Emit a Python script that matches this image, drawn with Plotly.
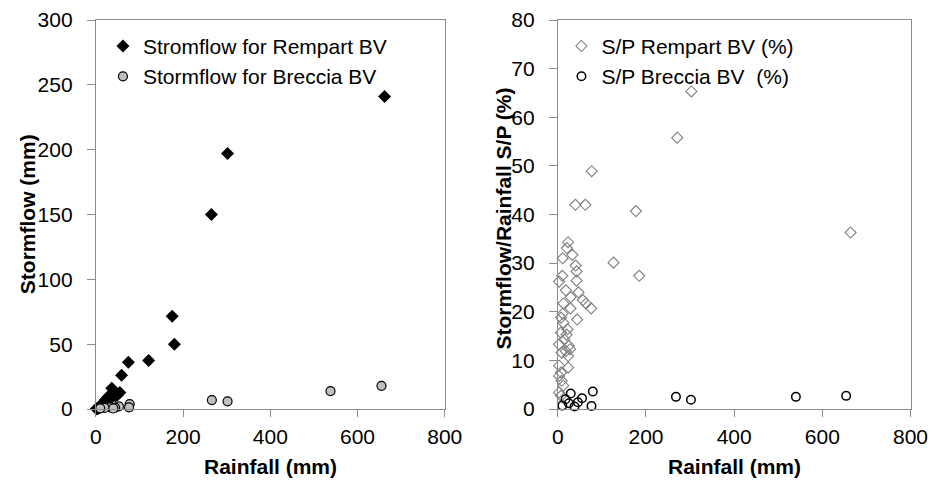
import plotly.graph_objects as go

# ---- Left panel: stormflow vs rainfall ----
rain_rempart = [662, 302, 265, 175, 180, 121, 74.5, 59, 55, 36.5, 40, 45, 50, 30, 33, 28, 25, 22, 20, 18, 15, 12, 10, 8, 5, 3, 1]
storm_rempart = [241, 197, 150, 71.5, 50, 37.5, 36, 26, 12.8, 16, 12, 10, 11, 10, 8, 9, 8, 7, 6, 5, 4, 3, 2, 1, 0.5, 0.2, 0.1]

rain_breccia = [655, 538, 266, 302, 77.5, 76, 53, 44, 33, 20, 10, 40]
storm_breccia = [17.9, 13.8, 6.9, 5.9, 3.8, 1.3, 2, 1, 1.3, 0.8, 0.5, 0.4]

# ---- Right panel: S/P ratio vs rainfall ----
sp_rain_rempart = [664, 303, 271, 77, 40, 62.5, 177, 126.5, 184.7, 75.8, 64, 56.7, 44, 47, 42.7, 42.7, 40.5,
                   33, 23.5, 20.6, 11, 10.3, 3, 18.4, 29.4, 28.7, 13, 11, 7.4, 13, 22, 20, 7.4, 14.7, 25, 28,
                   18.4, 3, 8.8, 23.5, 3, 23.5, 7.4, 3, 8.8, 12.5, 3, 7.4]
sp_rempart = [36.3, 65.3, 55.8, 48.9, 42, 42, 40.7, 30.1, 27.4, 20.7, 21.7, 22.4, 18.4, 24, 26.4, 28.3, 29.5,
              31.7, 34.3, 33.1, 31, 27.4, 26.2, 24.4, 23, 20.7, 21.7, 19.6, 18.8, 17.7, 16.4, 15.3, 15.7, 14.3, 13, 12.3,
              11.9, 13.3, 11.6, 10.9, 8.9, 8.5, 7.5, 6.8, 5.8, 4.8, 3.4, 2.7]

sp_rain_breccia = [654, 540, 268, 302, 79.5, 76.5, 55, 45.6, 29.4, 38, 10.3, 17.6, 25]
sp_breccia = [2.7, 2.5, 2.5, 1.9, 3.6, 0.6, 2.2, 1.4, 3.2, 0.5, 0.7, 2.0, 1.2]

x_ticks = [0, 200, 400, 600, 800]
y_ticks_left = [0, 50, 100, 150, 200, 250, 300]
y_ticks_right = [0, 10, 20, 30, 40, 50, 60, 70, 80]

FONT = "Liberation Sans, Arial, sans-serif"
AXC = "#8c8c8c"
FS = 21

fig = go.Figure()

fig.add_trace(go.Scatter(
    x=rain_rempart, y=storm_rempart, mode="markers", name="Stromflow for Rempart BV",
    marker=dict(symbol="diamond", size=10, color="black", line=dict(width=0)),
    xaxis="x", yaxis="y", legend="legend", cliponaxis=False))
fig.add_trace(go.Scatter(
    x=rain_breccia, y=storm_breccia, mode="markers", name="Stormflow for Breccia BV",
    marker=dict(symbol="circle", size=9, color="#bfbfbf", line=dict(width=1.2, color="black")),
    xaxis="x", yaxis="y", legend="legend", cliponaxis=False))

fig.add_trace(go.Scatter(
    x=sp_rain_rempart, y=sp_rempart, mode="markers", name="S/P Rempart BV (%)",
    marker=dict(symbol="diamond-open", size=8.5, color="#7f7f7f", line=dict(width=1.1, color="#7f7f7f")),
    xaxis="x2", yaxis="y2", legend="legend2", cliponaxis=False))
fig.add_trace(go.Scatter(
    x=sp_rain_breccia, y=sp_breccia, mode="markers", name="S/P Breccia BV  (%)",
    marker=dict(symbol="circle-open", size=8.5, color="black", line=dict(width=1.5, color="black")),
    xaxis="x2", yaxis="y2", legend="legend2", cliponaxis=False))

common_x = dict(range=[0, 800], tickvals=x_ticks, ticks="outside", ticklen=7, tickcolor=AXC,
                ticklabelstandoff=2, ticklabeloverflow="allow",
                showline=True, linecolor=AXC, linewidth=1, mirror=True, showgrid=False, zeroline=False,
                tickfont=dict(family=FONT, size=FS, color="black"))
common_y = dict(ticks="outside", ticklen=8, tickcolor=AXC, ticklabelstandoff=10, ticklabeloverflow="allow",
                showline=True, linecolor=AXC, linewidth=1, mirror=True, showgrid=False, zeroline=False,
                tickfont=dict(family=FONT, size=FS, color="black"))

# The page body has an 8 px margin, so the figure is placed 8 px right/down in the window.
fig.update_layout(
    width=941, height=472,
    margin=dict(l=0, r=0, t=10, b=71),
    paper_bgcolor="white", plot_bgcolor="white",
    font=dict(family=FONT, color="black"),
    xaxis=dict(domain=[0.08927, 0.46971], anchor="y", **common_x),
    yaxis=dict(domain=[0, 1], anchor="x", range=[0, 300], tickvals=y_ticks_left, **common_y),
    xaxis2=dict(domain=[0.59299, 0.97768], anchor="y2", **common_x),
    yaxis2=dict(domain=[0, 1], anchor="x2", range=[0, 80], tickvals=y_ticks_right, **common_y),
    legend=dict(x=0.097, y=0.985, xanchor="left", yanchor="top", bgcolor="rgba(0,0,0,0)",
                font=dict(family=FONT, size=FS), itemwidth=30, tracegroupgap=0),
    legend2=dict(x=0.597, y=0.985, xanchor="left", yanchor="top", bgcolor="rgba(0,0,0,0)",
                 font=dict(family=FONT, size=FS), itemwidth=30, tracegroupgap=0),
    showlegend=True,
    annotations=[
        dict(text="<b>Rainfall (mm)</b>", x=0.2795, y=-0.148, xref="paper", yref="paper",
             xanchor="center", yanchor="middle", showarrow=False, font=dict(family=FONT, size=FS)),
        dict(text="<b>Rainfall (mm)</b>", x=0.7859, y=-0.148, xref="paper", yref="paper",
             xanchor="center", yanchor="middle", showarrow=False, font=dict(family=FONT, size=FS)),
        dict(text="<b>Stormflow (mm)</b>", x=0.01488, y=0.5, xref="paper", yref="paper", textangle=-90,
             xanchor="center", yanchor="middle", showarrow=False, font=dict(family=FONT, size=FS)),
        dict(text="<b>Stormflow/Rainfall S/P (%)</b>", x=0.5335, y=0.49, xref="paper", yref="paper", textangle=-90,
             xanchor="center", yanchor="middle", showarrow=False, font=dict(family=FONT, size=FS)),
    ],
)

fig.write_html("out.html")
